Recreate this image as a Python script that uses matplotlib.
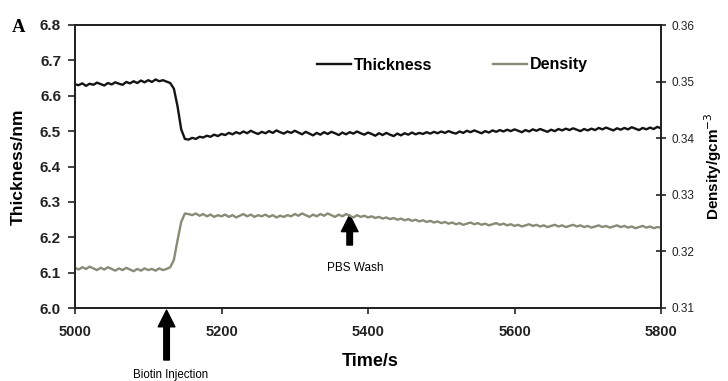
import numpy as np
import matplotlib
matplotlib.use("Agg")
import matplotlib.pyplot as plt

plt.rcParams['font.family'] = ['Liberation Sans', 'DejaVu Sans']

time_s = np.arange(5000, 5801, 5)

thickness_nm = [
    6.632, 6.630, 6.635, 6.628, 6.634, 6.631, 6.637, 6.633, 6.629, 6.636,
    6.632, 6.638, 6.634, 6.631, 6.639, 6.635, 6.641, 6.636, 6.643, 6.638,
    6.644, 6.639, 6.646, 6.641, 6.644, 6.640,
    6.636, 6.620, 6.570, 6.505, 6.478, 6.476,
    6.481, 6.478, 6.484, 6.482, 6.487, 6.484, 6.490, 6.486, 6.492,
    6.489, 6.495, 6.491, 6.497, 6.493, 6.499, 6.494, 6.501, 6.496, 6.492,
    6.498, 6.494, 6.500, 6.495, 6.502, 6.497, 6.493, 6.499, 6.495, 6.501,
    6.496, 6.491, 6.498, 6.493, 6.488, 6.495, 6.490, 6.497, 6.492, 6.498,
    6.494, 6.489, 6.496, 6.491, 6.497, 6.493, 6.499, 6.494, 6.490, 6.496,
    6.492, 6.487, 6.494, 6.489, 6.495, 6.490, 6.486, 6.493, 6.488, 6.494,
    6.490, 6.496, 6.491, 6.495, 6.492, 6.497, 6.493, 6.498, 6.494, 6.499,
    6.495, 6.500, 6.496, 6.493, 6.499, 6.495, 6.501, 6.497, 6.502, 6.498,
    6.494, 6.500, 6.496, 6.502, 6.498, 6.503, 6.499, 6.504, 6.500, 6.505,
    6.501, 6.497, 6.503, 6.499, 6.505, 6.501, 6.506, 6.502, 6.498, 6.504,
    6.500, 6.506, 6.502, 6.507, 6.503, 6.508, 6.504, 6.500, 6.506, 6.502,
    6.507, 6.503, 6.509, 6.505, 6.510, 6.506, 6.502, 6.508, 6.504, 6.509,
    6.505, 6.511, 6.507, 6.503, 6.509, 6.505, 6.510, 6.506, 6.512, 6.508,
]

density_gcm3 = [
    0.3171, 0.3168, 0.3172, 0.3169, 0.3173, 0.3170, 0.3167, 0.3171, 0.3168, 0.3172,
    0.3169, 0.3166, 0.3170, 0.3167, 0.3171, 0.3168, 0.3165, 0.3169, 0.3166, 0.3170,
    0.3167, 0.3169, 0.3166, 0.3170, 0.3167, 0.3169,
    0.3172, 0.3185, 0.3220, 0.3252, 0.3267, 0.3266,
    0.3264, 0.3267, 0.3263, 0.3266, 0.3262, 0.3265, 0.3261, 0.3264, 0.3262,
    0.3265, 0.3261, 0.3264, 0.3260, 0.3263, 0.3266, 0.3262, 0.3265, 0.3261, 0.3264,
    0.3262, 0.3265, 0.3261, 0.3264, 0.3260, 0.3263, 0.3261, 0.3264, 0.3262, 0.3266,
    0.3263, 0.3267, 0.3264, 0.3261, 0.3265, 0.3262, 0.3266, 0.3263, 0.3267, 0.3264,
    0.3261, 0.3265, 0.3262, 0.3266, 0.3263, 0.3260, 0.3264, 0.3261, 0.3263, 0.3260,
    0.3262, 0.3259, 0.3261, 0.3258, 0.3260, 0.3257, 0.3259, 0.3256, 0.3258, 0.3255,
    0.3257, 0.3254, 0.3256, 0.3253, 0.3255, 0.3252, 0.3254, 0.3251, 0.3253, 0.3250,
    0.3252, 0.3249, 0.3251, 0.3248, 0.3250, 0.3247, 0.3249, 0.3251, 0.3248, 0.3250,
    0.3247, 0.3249, 0.3246, 0.3248, 0.3250, 0.3247, 0.3249, 0.3246, 0.3248, 0.3245,
    0.3247, 0.3244, 0.3246, 0.3248, 0.3245, 0.3247, 0.3244, 0.3246, 0.3243, 0.3245,
    0.3247, 0.3244, 0.3246, 0.3243, 0.3245, 0.3247, 0.3244, 0.3246, 0.3243, 0.3245,
    0.3242, 0.3244, 0.3246, 0.3243, 0.3245, 0.3242, 0.3244, 0.3246, 0.3243, 0.3245,
    0.3242, 0.3244, 0.3241, 0.3243, 0.3245, 0.3242, 0.3244, 0.3241, 0.3243, 0.3242,
]

x_ticks = [5000, 5200, 5400, 5600, 5800]
left_ticks = [6.0, 6.1, 6.2, 6.3, 6.4, 6.5, 6.6, 6.7, 6.8]
right_ticks = [0.31, 0.32, 0.33, 0.34, 0.35, 0.36]

thick_color = '#141414'
dens_color = '#8a8a78'

fig = plt.figure(figsize=(7.28, 3.81), dpi=100)
ax = fig.add_axes([75/728, 1-308/381, (661-75)/728, (308-25)/381])
ax2 = ax.twinx()

l1, = ax.plot(time_s, thickness_nm, color=thick_color, lw=1.7, label='Thickness')
l2, = ax2.plot(time_s, density_gcm3, color=dens_color, lw=1.7, label='Density')

ax.set_xlim(5000, 5800)
ax.set_ylim(6.0, 6.8)
ax2.set_ylim(0.31, 0.36)

ax.set_xticks(x_ticks)
ax.set_xticklabels([str(v) for v in x_ticks], fontsize=10.5, fontweight='bold')
ax.set_yticks(left_ticks)
ax.set_yticklabels([f"{v:.1f}" for v in left_ticks], fontsize=11, fontweight='bold')
ax2.set_yticks(right_ticks)
ax2.set_yticklabels([f"{v:.2f}" for v in right_ticks], fontsize=8.5)

for a in (ax, ax2):
    for s in a.spines.values():
        s.set_linewidth(1.3)
        s.set_color('#222222')
ax.tick_params(axis='y', direction='out', length=5, width=1.2, pad=5, colors='#222222')
ax.tick_params(axis='x', direction='out', length=4, width=1.2, pad=8, colors='#222222')
ax2.tick_params(axis='y', direction='inout', length=7, width=1.2, pad=4, colors='#222222')

ax.set_xlabel('Time/s', fontsize=13, fontweight='bold')
ax.set_ylabel('Thickness/nm', fontsize=12.5, fontweight='bold')
ax2.set_ylabel('Density/gcm$^{-3}$', fontsize=11, fontweight='bold')
ax.xaxis.set_label_coords((370-75)/586, (308-353)/283)
ax.yaxis.set_label_coords((26-75)/586, 0.5)
ax2.yaxis.set_label_coords((702-75)/586, 0.5)

ax.legend(handles=[l1, l2], loc='center left', bbox_to_anchor=((317-75)/586, (308-65)/283),
          ncol=2, frameon=False, prop={'weight': 'bold', 'size': 11.5},
          handlelength=2.15, columnspacing=3.8, handletextpad=0.15, borderaxespad=0,
          borderpad=0)

fig.text(12/728, 1-27/381, 'A', fontsize=13.5, fontweight='bold', family='Liberation Serif',
         ha='left', va='center')

# arrows
ax.annotate('', xy=(5125, 5.994), xytext=(5125, 5.853), xycoords='data',
            arrowprops=dict(facecolor='black', edgecolor='black', width=4,
                            headwidth=12, headlength=12, shrink=0),
            annotation_clip=False)
ax.text(5130, 5.81, 'Biotin Injection', fontsize=8.3, ha='center', va='center', clip_on=False)

ax.annotate('', xy=(5375, 6.263), xytext=(5375, 6.178), xycoords='data',
            arrowprops=dict(facecolor='black', edgecolor='black', width=4,
                            headwidth=12, headlength=12, shrink=0),
            annotation_clip=False)
ax.text(5382, 6.113, 'PBS Wash', fontsize=8.5, ha='center', va='center')

fig.savefig('out.png', dpi=100)
